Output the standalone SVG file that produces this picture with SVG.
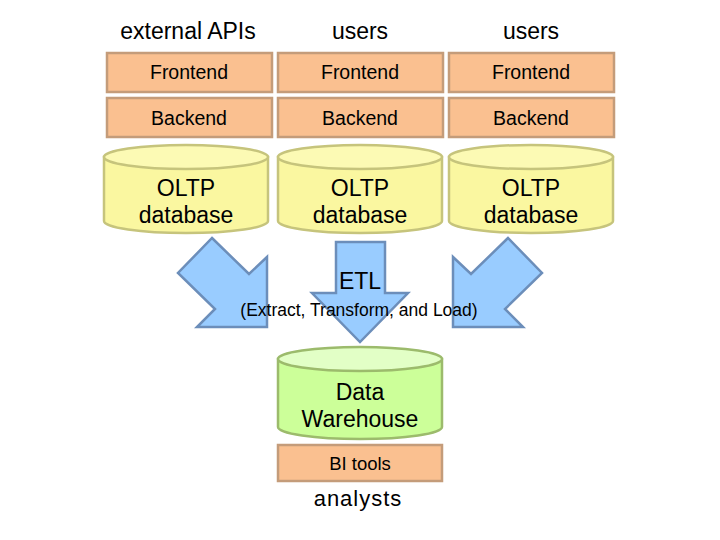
<svg xmlns="http://www.w3.org/2000/svg" width="720" height="540" viewBox="0 0 720 540">
<style>
text{font-family:"Liberation Sans",Arial,sans-serif;fill:#000;text-anchor:middle}
.h{font-size:23px}
.b{font-size:19.5px}
.box{fill:#FAC090;stroke:#C49C7A;stroke-width:2.5}
.cyl{fill:#FAF7A0;stroke:#C6C47C;stroke-width:2.5}
.cylt{fill:#FCFAB4;stroke:#C6C47C;stroke-width:2.5}
.gcyl{fill:#CCFF99;stroke:#9CBB6C;stroke-width:2.5}
.gcylt{fill:#E2FFC6;stroke:#9CBB6C;stroke-width:2.5}
.arr{fill:#99CCFF;stroke:#6C8EBA;stroke-width:2.5;stroke-linejoin:miter}
</style>
<rect width="720" height="540" fill="#fff"/>
<g id="connectors">
<polygon class="arr" points="212,238 249,274 267,257 267,327 197,327 215,309 178,273"/>
<polygon class="arr" points="508,238 471,274 453,257 453,327 523,327 505,309 542,273"/>
<polygon class="arr" points="336,242 385,242 385,293 408,293 360,342 312,293 336,293"/>
<text class="h" x="360" y="289" font-size="24">ETL</text>
<text x="359" y="316" font-size="17.5">(Extract, Transform, and Load)</text>
</g>
<g id="header-external"><text class="h" x="188" y="39">external APIs</text></g>
<g id="header-users1"><text class="h" x="360" y="39">users</text></g>
<g id="header-users2"><text class="h" x="531" y="39">users</text></g>
<g id="frontend1"><rect class="box" x="107" y="53" width="165" height="39"/><text class="b" x="189" y="79">Frontend</text></g>
<g id="frontend2"><rect class="box" x="278" y="53" width="165" height="39"/><text class="b" x="360" y="79">Frontend</text></g>
<g id="frontend3"><rect class="box" x="449" y="53" width="165" height="39"/><text class="b" x="531" y="79">Frontend</text></g>
<g id="backend1"><rect class="box" x="107" y="98" width="165" height="39"/><text class="b" x="189" y="125">Backend</text></g>
<g id="backend2"><rect class="box" x="278" y="98" width="165" height="39"/><text class="b" x="360" y="125">Backend</text></g>
<g id="backend3"><rect class="box" x="449" y="98" width="165" height="39"/><text class="b" x="531" y="125">Backend</text></g>
<g id="oltp1">
<path class="cyl" d="M104,157 L104,221 A82,12 0 0 0 268,221 L268,157 Z"/>
<ellipse class="cylt" cx="186" cy="157" rx="82" ry="12"/>
<text class="h" x="186" y="196">OLTP</text><text class="h" x="186" y="223">database</text>
</g>
<g id="oltp2">
<path class="cyl" d="M278,157 L278,221 A82,12 0 0 0 442,221 L442,157 Z"/>
<ellipse class="cylt" cx="360" cy="157" rx="82" ry="12"/>
<text class="h" x="360" y="196">OLTP</text><text class="h" x="360" y="223">database</text>
</g>
<g id="oltp3">
<path class="cyl" d="M449,157 L449,221 A82,12 0 0 0 613,221 L613,157 Z"/>
<ellipse class="cylt" cx="531" cy="157" rx="82" ry="12"/>
<text class="h" x="531" y="196">OLTP</text><text class="h" x="531" y="223">database</text>
</g>
<g id="warehouse">
<path class="gcyl" d="M278,359 L278,427 A82,12 0 0 0 442,427 L442,359 Z"/>
<ellipse class="gcylt" cx="360" cy="359" rx="82" ry="12"/>
<text class="h" x="360" y="400">Data</text><text class="h" x="360" y="427">Warehouse</text>
</g>
<g id="bitools"><rect class="box" x="278" y="445" width="164" height="36"/><text x="360" y="470" font-size="18.5">BI tools</text></g>
<g id="analysts"><text x="358" y="506" font-size="22" letter-spacing="1">analysts</text></g>
</svg>
